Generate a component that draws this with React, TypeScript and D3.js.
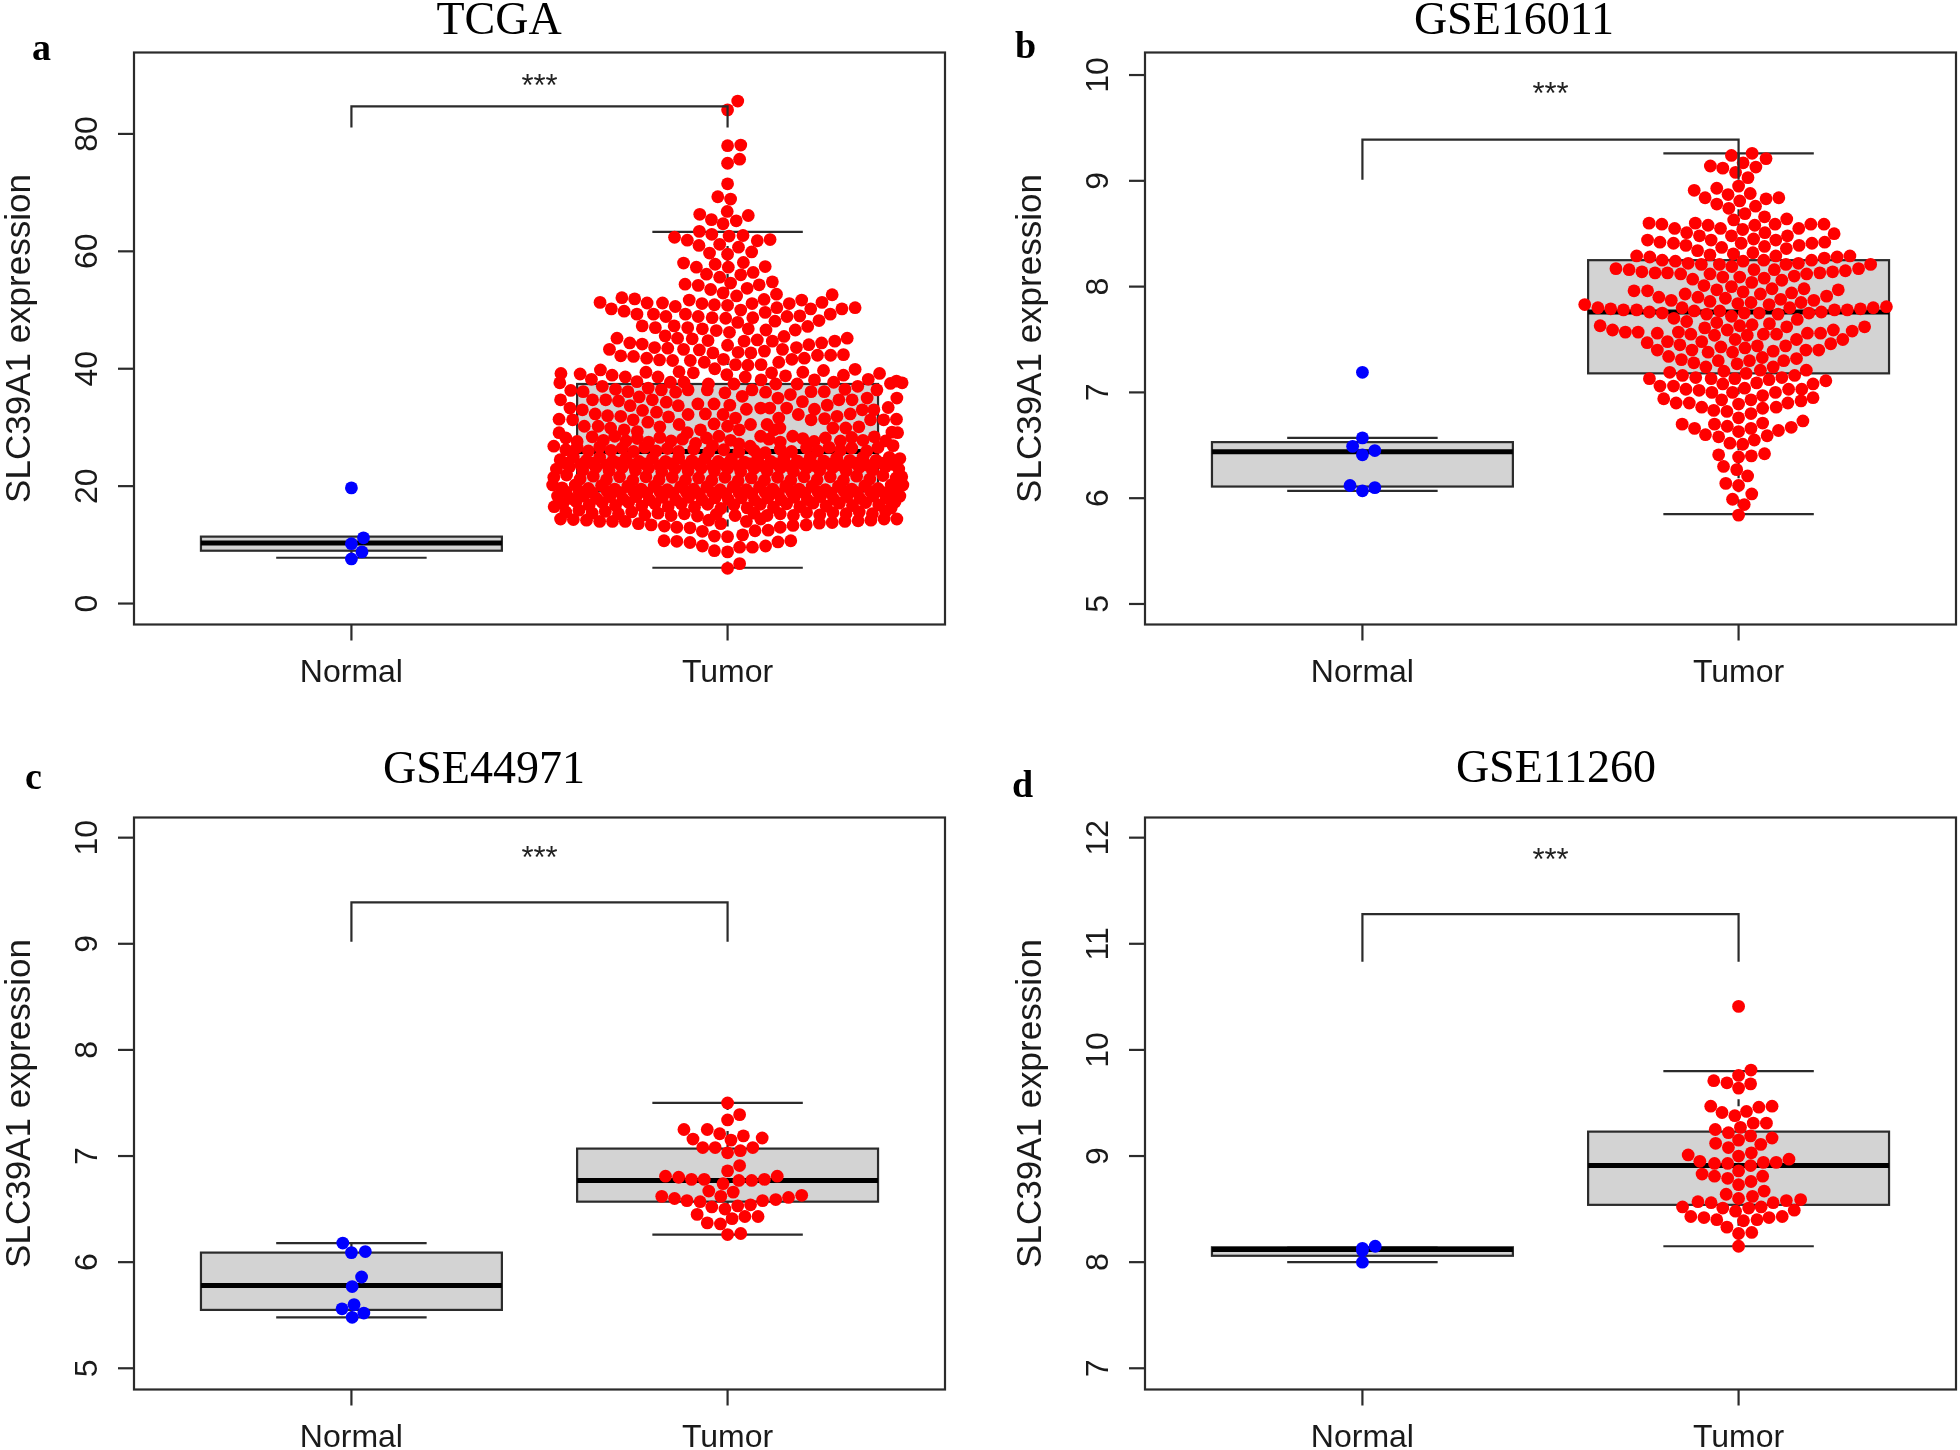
import React from "react";
import * as d3 from "d3";

// Every point is [horizontal swarm offset from its group (x units), SLC39A1 expression]
type Pt = [number, number];

const groupNames = ["Normal", "Tumor"];

const tcgaYTicks = [0, 20, 40, 60, 80];
const gse16011YTicks = [5, 6, 7, 8, 9, 10];
const gse44971YTicks = [5, 6, 7, 8, 9, 10];
const gse11260YTicks = [7, 8, 9, 10, 11, 12];

// [lower whisker, Q1, median, Q3, upper whisker]
const tcgaNormalBox = [7.8, 9.0, 10.3, 11.4, 11.2];
const tcgaTumorBox = [6.1, 19.1, 25.9, 37.4, 63.3];
const gse16011NormalBox = [6.07, 6.11, 6.44, 6.53, 6.57];
const gse16011TumorBox = [5.85, 7.18, 7.76, 8.25, 9.26];
const gse44971NormalBox = [5.48, 5.55, 5.78, 6.09, 6.18];
const gse44971TumorBox = [6.26, 6.57, 6.77, 7.07, 7.5];
const gse11260NormalBox = [8.0, 8.06, 8.12, 8.14, 8.14];
const gse11260TumorBox = [8.15, 8.54, 8.91, 9.23, 9.8];

const tcgaNormal: Pt[] = [[0,19.7],[.032,11.2],[0,10.2],[.028,8.8],[0,7.6]];
const tcgaTumorUpper: Pt[] = [
[.027,85.6],[0,84.1],[0,78],[.035,78.1],[0,75],[.032,75.7],[0,71.5],[-.026,69.3],[.008,68.9],[-.001,66.8],[-.074,66.3],[.055,66.1],[-.043,65.4],[.023,65.2],[-.012,64.7],[-.075,63.4],[-.042,62.9],[.004,62.6],[.041,62.7],[-.141,62.4],[-.107,61.9],[.079,61.8],[.113,62],[-.076,61],[-.021,61.2],[.029,60.7],[-.048,59.7],[0,59.5],[.064,59.9],[-.117,58],[-.083,57.3],[-.033,57.8],[.042,58.1],[.002,57.3],[.1,57.4],[-.056,56.1],[-.021,55.6],[.035,56],[.068,56.4],[-.113,54.4],[-.078,54.2],[.008,54.6],[-.045,53.5],[.052,53.7],[.084,54.3],[.119,54.8],[-.012,52.9],[.024,52.4],[.13,52.7],[.278,52.6],[-.281,52.1],[-.247,51.9],[-.339,51.3],[-.214,51.2],[-.173,51.2],[-.102,51.7],[-.068,51.1],[-.035,50.9],[.097,51.8],[.197,51.7],[.251,51.3],[-.139,50.6],[0,50.8],[.065,51.1],[.164,51.1],[.131,50.4],[-.309,50.2],[-.275,49.8],[-.241,49.3],[-.197,49.3],[-.164,48.9],[-.112,49.3],[-.078,48.9],[-.041,48.7],[-.005,48.6],[.035,50],[.1,49.6],[.221,50.2],[.304,50.2],[.339,50.4],[.273,49.3],[.067,48.7],[.158,48.9],[.192,49],[.027,47.9],[.126,48.1],[.243,48.2],[-.227,47.3],[-.192,47],[-.142,47.3],[-.106,47],[-.067,46.8],[-.03,46.5],[.005,46.2],[.055,46.8],[.102,46.6],[.18,46.6],[.213,47.2],[-.166,45.6],[-.133,45.2],[-.094,45.1],[-.052,44.8],[.15,45.5],[.318,45.2],[-.294,45.2],[-.26,44.4],[-.227,44.2],[.079,44.9],[.044,44.7],[.119,44.7],[.285,44.7],[.25,44.4],[.216,44.1],[.183,43.6],[-.194,43.6],[-.159,43.5],[-.117,43.3],[-.075,43.2],[-.314,43.3],[0,44],[.028,42.8],[.062,42.7],[.098,43],[.146,43.3],[-.039,42.7],
[-.284,42.2],[-.25,42.1],[-.215,41.8],[-.181,41.5],[-.146,41.4],[-.099,41.4],[-.062,41.1],[-.011,41.6],[.021,40.7],[.054,40.6],[.089,40.7],[.136,41.1],[.171,41.6],[.204,41.8],[.239,42.3],[.274,42.3],[.308,42.4],[-.034,40],[-.443,39.2],[-.392,39.1],[-.338,39.8],[-.307,38.9],[-.272,38.6],[-.217,39.4],[-.185,38.6],[-.129,39.5],[-.091,39.3],[-.002,39],[.047,38.6],[.117,39.3],[.154,38.8],[.2,39.4],[.255,39.7],[.308,38.9],[.339,39.9],[.404,39.2],[.374,38.2],[.433,37.5],[.449,37.9],[.464,37.6],[-.446,37.6],[-.362,38.2],[-.241,37.8],[-.152,37.7],[-.116,37.7],[.089,38.1],[.231,38.1],[.282,37.7],[-.051,37.4],[.017,37.4],[.185,37.4],[.128,37.4],[.346,37],
[-.417,36.3],[-.384,36.1],[-.333,37],[-.298,36.5],[-.265,36.1],[-.211,36.7],[-.176,36.4],[-.138,36],[-.105,36.4],[-.054,36.4],[-.007,35.9],[.065,36.4],[.101,36],[.167,35.6],[.222,36.1],[.257,36.1],[.312,36.5],[.397,36.4],
[-.444,34.7],[-.359,34.7],[-.324,34.7],[-.29,34.5],[-.235,35.2],[-.2,34.7],[-.163,34.3],[-.079,34],[-.036,34],[.039,35.3],[.134,35],[.199,34.4],[.296,34.7],[.331,34.7],[.371,35],[.45,35],
[-.419,33.3],[-.386,33],[-.259,33.7],[-.131,33.7],[.088,33.3],[.157,33.3],[.112,33.3],[.265,33.8],[.427,33.4],[.389,33],[.358,33],[.231,33.1],[.05,33.1],[.006,33.8],
[-.448,31.4],[-.412,31.3],[-.352,32.3],[-.319,32],[-.284,31.9],[-.226,32.9],[-.189,32.6],[-.105,32.2],[-.059,32.3],[-.012,32.2],[.021,31.6],[.188,32.2],[.136,31.6],[.258,31.5],[.291,31.9],[.326,32.3],[.38,31.3],[.449,31.4],[.415,31.3],
[-.251,31.3],[-.212,30.9],[-.157,31.8],[-.129,30.5],[-.18,30.1],[-.036,30.6],[0,30.2],[.061,30.5],[.031,29.6],[.105,30.5],[.139,29.9],[.222,31.3],[-.072,29.6],[-.107,29.1],[-.023,28.5],[-.056,28.2],[.008,27.8],[.088,28.5],[.123,29.6],[.173,28.5],[.28,29.9],[.314,29.9],[.349,30.1],[-.381,30.2],[-.344,30.2],[-.311,29.9],[-.275,29.6],[-.24,29.3],[-.448,29.1],[.452,29.1],[.437,29.2],
];
const tcgaTumorDense: Pt[] = [
[-.43,28.2],[-.4,27.6],[-.36,28.4],[-.33,27.8],[-.3,28.5],[-.27,27.7],[-.24,28.1],[-.21,27.5],[-.18,28.3],[-.15,27.7],[-.12,28],[-.085,27.3],[-.04,26.9],[.03,27.2],[.06,26.8],[.11,28],[.14,27.5],[.2,28.1],[.23,27.6],[.26,28.2],[.3,27.7],[.33,28.3],[.36,27.8],[.39,28.4],[.42,27.7],
[-.462,26.8],[-.43,26.2],[-.4,26.6],[-.37,26],[-.34,26.7],[-.31,26.1],[-.28,26.5],[-.25,25.9],[-.22,26.6],[-.19,26],[-.16,26.4],[-.13,25.9],[-.09,26.3],[-.05,25.8],[-.01,26.2],[.03,25.8],[.07,26.1],[.1,25.7],[.14,26.3],[.17,25.9],[.21,26.5],[.24,26],[.27,26.6],[.3,26.1],[.33,26.5],[.37,26],[.4,26.6],[.44,26.9],
[-.445,24.5],[-.41,25],[-.375,24.4],[-.34,24.9],[-.305,24.3],[-.27,24.8],[-.235,24.2],[-.2,24.7],[-.165,24.2],[-.13,24.8],[-.095,24.3],[-.06,24.7],[-.025,24.2],[.01,24.6],[.045,24.1],[.08,24.7],[.115,24.2],[.15,24.8],[.185,24.3],[.22,24.9],[.255,24.3],[.29,24.8],[.325,24.4],[.36,24.9],[.395,24.4],[.43,24.9],[.458,24.7],
[-.43,23.9],[-.39,23.7],[-.36,23.9],[-.32,23.6],[-.29,23.9],[-.25,23.6],[-.22,23.8],[-.18,23.5],[-.15,23.8],[-.11,23.5],[-.08,23.8],[-.04,23.4],[-.01,23.7],[.03,23.4],[.06,23.8],[.09,23.5],[.13,23.8],[.16,23.5],[.2,23.8],[.23,23.5],[.27,23.8],[.3,23.6],[.34,23.9],[.37,23.6],[.41,23.9],[.44,23.7],
[-.455,22.9],[-.42,23.3],[-.385,22.7],[-.35,23.2],[-.315,22.6],[-.28,23.2],[-.245,22.7],[-.21,23.1],[-.175,22.5],[-.14,23],[-.105,22.6],[-.07,23.1],[-.035,22.6],[0,23],[.035,22.5],[.07,23],[.105,22.6],[.14,23.1],[.175,22.5],[.21,23.1],[.245,22.7],[.28,23.2],[.315,22.6],[.35,23.2],[.385,22.7],[.42,23.3],[.455,22.9],
[-.462,21.5],[-.428,21.9],[-.392,21.2],[-.357,21.7],[-.322,21.1],[-.287,21.6],[-.252,21],[-.217,21.6],[-.182,21.1],[-.147,21.5],[-.112,21],[-.077,21.4],[-.042,21],[-.007,21.5],[.028,20.9],[.063,21.4],[.098,21],[.133,21.5],[.168,21],[.203,21.6],[.238,21.1],[.273,21.6],[.308,21],[.343,21.7],[.378,21.2],[.413,21.8],[.448,21.4],[.463,21.6],
[-.465,20.2],[-.44,19.7],[-.405,20.2],[-.37,19.6],[-.335,20.1],[-.3,19.5],[-.265,20],[-.23,19.5],[-.195,20],[-.16,19.4],[-.125,19.9],[-.09,19.5],[-.055,19.9],[-.02,19.4],[.015,19.9],[.05,19.4],[.085,19.9],[.12,19.5],[.155,20],[.19,19.5],[.225,20],[.26,19.4],[.295,20],[.33,19.5],[.365,20.1],[.4,19.6],[.435,20.2],[.466,20.2],
[-.43,19],[-.395,19.2],[-.36,18.9],[-.32,19.1],[-.285,18.9],[-.25,19.1],[-.215,18.8],[-.18,19],[-.145,18.8],[-.11,19],[-.075,18.7],[-.04,18.9],[-.005,18.7],[.03,18.9],[.065,18.7],[.1,18.9],[.135,18.7],[.17,19],[.205,18.8],[.24,19],[.275,18.8],[.31,19.1],[.345,18.9],[.38,19.1],[.415,18.9],[.445,19.1],
[-.452,18.3],[-.418,17.9],[-.383,18.3],[-.348,17.9],[-.313,18.2],[-.278,17.8],[-.243,18.2],[-.208,17.7],[-.173,18.1],[-.138,17.7],[-.103,18.1],[-.068,17.7],[-.033,18],[.002,17.7],[.037,18],[.072,17.6],[.107,18],[.142,17.7],[.177,18.1],[.212,17.7],[.247,18.2],[.282,17.8],[.317,18.2],[.352,17.9],[.387,18.3],[.422,17.9],[.458,18.3],
[-.438,17],[-.403,17.4],[-.368,16.8],[-.333,17.2],[-.298,16.7],[-.263,17.2],[-.228,16.6],[-.193,17],[-.158,16.5],[-.123,17],[-.088,16.4],[-.053,16.9],[-.018,16.2],[.017,16.8],[.052,16.3],[.087,16.9],[.122,16.4],[.157,17],[.192,16.5],[.227,17.1],[.262,16.6],[.297,17.1],[.332,16.7],[.367,17.2],[.402,16.8],[.445,17.3],
[-.461,16.5],[-.43,15.6],[-.395,15.9],[-.36,15.4],[-.325,15.7],[-.29,15.3],[-.255,15.6],[-.22,15.1],[-.185,15.4],[-.15,15],[-.115,15.3],[-.08,14.9],[-.03,15.2],[.02,15],[.07,15.4],[.105,15],[.14,15.3],[.175,15],[.21,15.5],[.245,15.1],[.28,15.5],[.315,15.3],[.35,15.6],[.385,15.3],[.42,15.7],[.435,16.3],
];
const tcgaTumorLower: Pt[] = [
[-.444,14.4],[-.41,14.3],[-.375,14.2],[-.34,14],[-.306,14],[-.272,14],[-.237,13.6],[-.203,13.4],[-.168,13.2],[-.135,13],[-.1,12.9],[-.05,14.2],[-.018,13.6],[.05,14],[.088,14.4],[.174,13.3],[.209,13.4],[.14,13],[.244,13.7],[.278,13.8],[.312,14],[.347,14.1],[.381,14.2],[.416,14.4],[.45,14.4],[-.067,12.3],[-.035,11.5],[0,11.4],[.04,11.7],[.073,12.4],[.108,12.5],[-.169,10.7],[-.135,10.6],[-.1,10.4],[-.067,9.8],[-.035,9],[0,8.8],[.032,9.6],[.066,9.6],[.101,9.8],[.134,10.5],[.168,10.7],[.032,6.8],[0,6],
];

const gse16011Normal: Pt[] = [[0,7.19],[0,6.57],[-.026,6.49],[.033,6.45],[0,6.41],[-.033,6.12],[.033,6.1],[0,6.07]];
const gse16011Tumor: Pt[] = [
[.036,9.26],[-.019,9.24],[.073,9.21],[.012,9.17],[.046,9.13],[-.075,9.14],[-.042,9.12],[-.008,9.08],[.025,9.03],[0,8.95],[-.118,8.91],[-.058,8.93],[-.028,8.87],[.031,8.88],[-.089,8.84],[.003,8.81],[.073,8.83],[.107,8.84],[-.058,8.78],[.045,8.76],[-.026,8.74],[.017,8.69],[.069,8.66],[-.013,8.63],[.128,8.64],[-.238,8.6],[-.204,8.59],[-.115,8.6],[.097,8.59],[.043,8.58],[-.081,8.58],[-.17,8.55],[-.048,8.55],[.011,8.54],[.16,8.55],[.192,8.59],[.227,8.59],[-.138,8.51],[.07,8.51],[.254,8.5],[-.104,8.48],[-.019,8.48],[.13,8.48],[-.242,8.44],[-.209,8.42],[-.173,8.41],[-.073,8.44],[.04,8.45],[.099,8.44],[.007,8.41],[-.14,8.39],[.161,8.39],[.195,8.41],[.229,8.42],[.069,8.38],[-.045,8.37],[.127,8.36],[-.109,8.34],[.038,8.32],[-.014,8.31],[-.076,8.3],[.099,8.29],[-.271,8.29],[-.236,8.28],[-.203,8.25],[-.168,8.24],[-.134,8.22],[-.099,8.21],[-.051,8.21],[.012,8.24],[.067,8.25],[.126,8.21],[.159,8.22],[.194,8.25],[.228,8.27],[.262,8.28],[.296,8.29],[-.326,8.17],[-.291,8.16],[-.257,8.14],[-.222,8.13],[-.189,8.13],[-.154,8.12],[-.018,8.19],[.041,8.16],[.095,8.16],[-.076,8.12],[.181,8.12],[.216,8.13],[.25,8.14],[.284,8.15],[.319,8.17],[.351,8.21],[-.122,8.07],[-.042,8.09],[.003,8.09],[.068,8.08],[.148,8.1],[.035,8.04],[.115,8.06],[-.092,8.01],[-.019,8],[.089,7.98],[-.058,7.97],[-.278,7.96],[-.242,7.96],[.174,7.98],[.265,7.97],[.012,7.95],[.141,7.94],[-.142,7.93],[.058,7.93],[-.212,7.9],[-.108,7.9],[-.035,7.89],[.234,7.91],[-.179,7.87],[.112,7.88],[.2,7.87],[-.076,7.86],[.166,7.85],[-.002,7.84],[.033,7.85],[.081,7.83],[-.409,7.83],[-.374,7.8],[-.34,7.79],[-.306,7.78],[-.271,7.78],[-.237,7.76],[-.203,7.75],[-.15,7.8],[-.118,7.77],[-.05,7.77],[.136,7.8],[.393,7.81],[.358,7.8],[.324,7.79],[.289,7.78],[.255,7.78],[.22,7.76],[.187,7.75],[-.085,7.74],[-.019,7.72],[.015,7.75],[.055,7.75],[.105,7.74],[-.172,7.7],[.156,7.69],[-.138,7.67],[-.058,7.66],[-.368,7.63],[-.335,7.59],[-.301,7.57],[-.267,7.57],[-.216,7.56],[-.09,7.61],[-.03,7.59],[.003,7.63],[.036,7.64],[.082,7.65],[.128,7.62],[-.16,7.57],[-.127,7.55],[-.064,7.54],[.023,7.54],[.066,7.55],[.101,7.55],[.183,7.56],[.218,7.56],[.252,7.59],[.302,7.58],[.335,7.62],
[-.243,7.47],[-.189,7.48],[-.156,7.45],[-.098,7.48],[-.009,7.5],[.154,7.5],[.277,7.5],[-.216,7.4],[-.124,7.4],[-.047,7.43],[.017,7.42],[.05,7.44],[.125,7.44],[.245,7.46],[.213,7.4],[.179,7.4],[.092,7.39],[-.081,7.38],[-.016,7.38],[-.186,7.34],[-.152,7.31],[-.119,7.28],[-.054,7.3],[.029,7.3],[.063,7.33],[.12,7.3],[.154,7.32],[-.004,7.27],[-.087,7.24],[.092,7.24],[-.183,7.19],[-.039,7.2],[.058,7.21],[.18,7.21],[.02,7.18],[-.149,7.16],[-.114,7.14],[-.073,7.13],[-.01,7.13],[.115,7.14],[.149,7.16],[.081,7.12],[-.237,7.13],[.048,7.09],[-.042,7.08],[.232,7.11],[.198,7.08],[-.209,7.06],[-.173,7.06],[.016,7.04],[-.14,7.03],[-.105,7.02],[.133,7.03],[.168,7.03],[-.071,7],[-.016,7],[.098,7],[.064,6.97],[-.199,6.94],[.198,6.95],[-.045,6.93],[.033,6.93],[-.166,6.9],[-.131,6.9],[.166,6.92],[.131,6.9],[0,6.89],[-.098,6.86],[.1,6.86],[.064,6.85],[-.066,6.83],[-.031,6.82],[.033,6.8],[0,6.76],[.171,6.73],[-.15,6.7],[-.064,6.7],[.064,6.71],[-.03,6.68],[.033,6.66],[-.117,6.66],[.14,6.67],[.106,6.64],[0,6.63],[-.088,6.6],[.076,6.59],[-.053,6.58],[.042,6.55],[-.023,6.52],[.011,6.51],[-.053,6.41],[.069,6.42],[.034,6.4],[0,6.39],[-.04,6.3],[-.005,6.27],[.024,6.21],[-.034,6.14],[0,6.12],[.035,6.04],[-.016,5.99],[.015,5.94],[0,5.84],
];

const gse44971Normal: Pt[] = [[-.023,6.18],[0,6.09],[.037,6.1],[.027,5.86],[.002,5.77],[.007,5.6],[-.025,5.56],[.033,5.52],[.002,5.48]];
const gse44971Tumor: Pt[] = [
[0,7.5],[.032,7.39],[0,7.34],[-.116,7.25],[-.054,7.25],[-.021,7.21],[.042,7.19],[.092,7.17],[-.092,7.16],[.009,7.15],[-.066,7.08],[-.033,7.08],[.067,7.08],[.034,7.05],[0,7.03],[.032,6.91],[0,6.86],[-.165,6.81],[-.13,6.8],[-.096,6.78],[-.062,6.78],[.132,6.81],[.098,6.78],[.064,6.77],[.03,6.77],[-.012,6.74],[-.05,6.67],[.015,6.66],[-.018,6.62],[-.175,6.62],[-.141,6.6],[-.108,6.58],[-.073,6.57],[.197,6.63],[.162,6.61],[.128,6.59],[.093,6.58],[-.042,6.52],[-.007,6.5],[.027,6.53],[.061,6.54],[-.081,6.45],[.081,6.43],[.046,6.43],[.012,6.41],[-.054,6.37],[-.019,6.36],[0,6.26],[.035,6.27],
];

const gse11260Normal: Pt[] = [[0,8.13],[.034,8.15],[0,8.11],[0,8]];
const gse11260Tumor: Pt[] = [
[0,10.41],[.033,9.81],[0,9.76],[-.066,9.71],[-.031,9.69],[0,9.64],[.032,9.68],[-.074,9.47],[-.044,9.41],[-.01,9.38],[.021,9.42],[.054,9.46],[.089,9.47],[-.062,9.25],[-.027,9.22],[.005,9.27],[.039,9.31],[.074,9.31],[0,9.15],[.032,9.19],[.089,9.17],[-.061,9.12],[-.027,9.08],[.059,9.11],[0,9],[.034,9.03],[-.134,9.01],[-.103,8.95],[-.064,8.93],[-.029,8.93],[.032,8.91],[.066,8.94],[.1,8.94],[.134,8.97],[0,8.86],[-.097,8.83],[-.064,8.81],[-.029,8.79],[.064,8.81],[0,8.73],[.033,8.76],[-.033,8.64],[.068,8.67],[.037,8.62],[0,8.6],[-.108,8.57],[-.073,8.56],[.092,8.56],[.127,8.58],[.165,8.59],[-.149,8.52],[-.042,8.51],[.027,8.51],[.06,8.52],[-.008,8.48],[.148,8.49],[-.127,8.43],[-.092,8.42],[-.058,8.4],[.013,8.39],[.049,8.4],[.081,8.42],[.116,8.43],[-.031,8.33],[0,8.27],[.035,8.28],[0,8.15],
];

const panels = [
  { title: "TCGA", letter: "a", left: 134, top: 52.5, yDom: [-3.57, 93.87], ticks: tcgaYTicks, boxes: [tcgaNormalBox, tcgaTumorBox], pts: [tcgaNormal, [...tcgaTumorUpper, ...tcgaTumorDense, ...tcgaTumorLower]], bracket: [81.1, 84.7], star: 89.0, titleX: 499, titleY: 34, letterX: 32, letterY: 60 },
  { title: "GSE16011", letter: "b", left: 1145, top: 52.5, yDom: [4.806, 10.213], ticks: gse16011YTicks, boxes: [gse16011NormalBox, gse16011TumorBox], pts: [gse16011Normal, gse16011Tumor], bracket: [9.01, 9.39], star: 9.87, titleX: 1514, titleY: 34, letterX: 1015, letterY: 58 },
  { title: "GSE44971", letter: "c", left: 134, top: 817.5, yDom: [4.8, 10.19], ticks: gse44971YTicks, boxes: [gse44971NormalBox, gse44971TumorBox], pts: [gse44971Normal, gse44971Tumor], bracket: [9.02, 9.39], star: 9.86, titleX: 484, titleY: 783, letterX: 25, letterY: 789 },
  { title: "GSE11260", letter: "d", left: 1145, top: 817.5, yDom: [6.8, 12.19], ticks: gse11260YTicks, boxes: [gse11260NormalBox, gse11260TumorBox], pts: [gse11260Normal, gse11260Tumor], bracket: [10.83, 11.28], star: 11.84, titleX: 1556, titleY: 782, letterX: 1012, letterY: 797 },
];

const groupColors = ["#0000ff", "#ff0000"];
const ink = "#2b2b2b";
const sans = "'Liberation Sans', Arial, sans-serif";
const serif = "'Liberation Serif', 'Times New Roman', serif";
const plotW = 811;
const plotH = 572;

function Panel({ p }: { p: (typeof panels)[number] }) {
  const x = d3.scaleLinear().domain([0.422, 2.578]).range([p.left, p.left + plotW]);
  const y = d3.scaleLinear().domain(p.yDom).range([p.top + plotH, p.top]);
  const bottom = p.top + plotH;
  return (
    <g>
      <text x={p.titleX} y={p.titleY} textAnchor="middle" fontFamily={serif} fontSize={46} fill="#000">{p.title}</text>
      <text x={p.letterX} y={p.letterY} fontFamily={serif} fontWeight="bold" fontSize={38} fill="#000">{p.letter}</text>
      <rect x={p.left} y={p.top} width={plotW} height={plotH} fill="#fff" stroke={ink} strokeWidth={2.2} />
      {p.boxes.map((b, i) => {
        const g = i + 1;
        const [lo, q1, med, q3, hi] = b;
        return (
          <g key={g} stroke={ink} strokeWidth={2.2}>
            <line x1={x(g)} x2={x(g)} y1={y(hi)} y2={y(q3)} strokeDasharray="7 7" />
            <line x1={x(g)} x2={x(g)} y1={y(q1)} y2={y(lo)} strokeDasharray="7 7" />
            <line x1={x(g - 0.2)} x2={x(g + 0.2)} y1={y(hi)} y2={y(hi)} />
            <line x1={x(g - 0.2)} x2={x(g + 0.2)} y1={y(lo)} y2={y(lo)} />
            <rect x={x(g - 0.4)} y={y(q3)} width={x(g + 0.4) - x(g - 0.4)} height={y(q1) - y(q3)} fill="#d3d3d3" />
            <line x1={x(g - 0.4)} x2={x(g + 0.4)} y1={y(med)} y2={y(med)} stroke="#000" strokeWidth={5} />
          </g>
        );
      })}
      {p.pts.map((pts, i) =>
        pts.map((d, j) => <circle key={`${i}-${j}`} cx={x(i + 1 + d[0])} cy={y(d[1])} r={6.4} fill={groupColors[i]} />)
      )}
      <path d={`M${x(1)},${y(p.bracket[0])}V${y(p.bracket[1])}H${x(2)}V${y(p.bracket[0])}`} fill="none" stroke={ink} strokeWidth={2.2} />
      <text x={x(1.5)} y={y(p.star) + 15} textAnchor="middle" fontFamily={sans} fontSize={31} fill="#222">***</text>
      {p.ticks.map((t) => (
        <g key={t}>
          <line x1={p.left - 16} x2={p.left} y1={y(t)} y2={y(t)} stroke={ink} strokeWidth={2.2} />
          <text transform={`translate(${p.left - 37},${y(t)}) rotate(-90)`} textAnchor="middle" fontFamily={sans} fontSize={32} fill="#1a1a1a">{t}</text>
        </g>
      ))}
      <text transform={`translate(${p.left - 104},${p.top + plotH / 2}) rotate(-90)`} textAnchor="middle" fontFamily={sans} fontSize={35} fill="#1a1a1a">SLC39A1 expression</text>
      {groupNames.map((n, i) => (
        <g key={n}>
          <line x1={x(i + 1)} x2={x(i + 1)} y1={bottom} y2={bottom + 16} stroke={ink} strokeWidth={2.2} />
          <text x={x(i + 1)} y={bottom + 57} textAnchor="middle" fontFamily={sans} fontSize={32} fill="#1a1a1a">{n}</text>
        </g>
      ))}
    </g>
  );
}

export default function App() {
  return (
    <svg width={1960} height={1450} viewBox="0 0 1960 1450" style={{ position: "absolute", left: 0, top: 0, display: "block", background: "#fff", filter: "blur(0.5px)" }}>
      {panels.map((p) => <Panel key={p.letter} p={p} />)}
    </svg>
  );
}
